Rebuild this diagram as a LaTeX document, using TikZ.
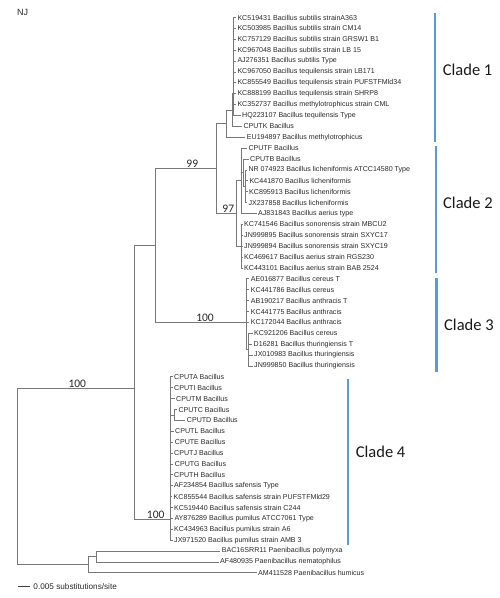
\documentclass[tikz,border=0pt]{standalone}
\usepackage{fontspec}
\setmainfont{Liberation Sans}
\newfontfamily\carl{Carlito}
\definecolor{treegray}{RGB}{120,120,120}
\definecolor{cladeblue}{RGB}{91,155,213}
\definecolor{labtext}{RGB}{40,40,40}
\newcommand\treefont{\fontsize{7.1}{8}\selectfont}
\newcommand\tleaf[4]{\node[leaf] (#1) at (#2,{17.5+10.89*#3}) {#4};}
\tikzset{
  leaf/.style={anchor=west, inner xsep=1.5pt, inner ysep=0pt, font=\treefont, text=labtext},
  br/.style={draw=treegray, line width=0.9pt},
  boot/.style={anchor=south, inner sep=0.6pt, font=\carl\fontsize{11.5}{12}\selectfont, text=labtext},
  cbar/.style={draw=cladeblue, line width=2.2pt},
  cladelab/.style={anchor=west, inner sep=0pt, font=\carl\fontsize{16.5}{18}\selectfont, text=black!90}
}
\begin{document}
\begin{tikzpicture}[x=1pt,y=-1pt]
\useasboundingbox (0,0) rectangle (500,598);
\node[anchor=west, inner sep=0pt, font=\fontsize{9}{10}\selectfont, text=labtext] (nj) at (17,12) {NJ};
% leaves
\tleaf{l0}{235.8}{0}{KC519431 Bacillus subtilis strainA363}
\tleaf{l1}{235.8}{1}{KC503985 Bacillus subtilis strain CM14}
\tleaf{l2}{235.8}{2}{KC757129 Bacillus subtilis strain GRSW1 B1}
\tleaf{l3}{235.8}{3}{KC967048 Bacillus subtilis strain LB 15}
\tleaf{l4}{235.8}{4}{AJ276351 Bacillus subtilis Type}
\tleaf{l5}{235.8}{5}{KC967050 Bacillus tequilensis strain LB171}
\tleaf{l6}{235.8}{6}{KC855549 Bacillus tequilensis strain PUFSTFMld34}
\tleaf{l7}{235.8}{7}{KC888199 Bacillus tequilensis strain SHRP8}
\tleaf{l8}{235.8}{8}{KC352737 Bacillus methylotrophicus strain CML}
\tleaf{l9}{240.5}{9}{HQ223107 Bacillus tequilensis Type}
\tleaf{l10}{241.8}{10}{CPUTK Bacillus}
\tleaf{l11}{245.2}{11}{EU194897 Bacillus methylotrophicus}
\tleaf{l12}{246.8}{12}{CPUTF Bacillus}
\tleaf{l13}{248.5}{13}{CPUTB Bacillus}
\tleaf{l14}{246.8}{14}{NR 074923 Bacillus licheniformis ATCC14580 Type}
\tleaf{l15}{247.8}{15}{KC441870 Bacillus licheniformis}
\tleaf{l16}{247.5}{16}{KC895913 Bacillus licheniformis}
\tleaf{l17}{246.8}{17}{JX237858 Bacillus licheniformis}
\tleaf{l18}{256.5}{18}{AJ831843 Bacillus aerius type}
\tleaf{l19}{242.5}{19}{KC741546 Bacillus sonorensis strain MBCU2}
\tleaf{l20}{242.5}{20}{JN999895 Bacillus sonorensis strain SXYC17}
\tleaf{l21}{242.5}{21}{JN999894 Bacillus sonorensis strain SXYC19}
\tleaf{l22}{242.5}{22}{KC469617 Bacillus aerius strain RGS230}
\tleaf{l23}{242.5}{23}{KC443101 Bacillus aerius strain BAB 2524}
\tleaf{l24}{249.2}{24}{AE016877 Bacillus cereus T}
\tleaf{l25}{249.2}{25}{KC441786 Bacillus cereus}
\tleaf{l26}{249.2}{26}{AB190217 Bacillus anthracis T}
\tleaf{l27}{249.2}{27}{KC441775 Bacillus anthracis}
\tleaf{l28}{249.2}{28}{KC172044 Bacillus anthracis}
\tleaf{l29}{252.5}{29}{KC921206 Bacillus cereus}
\tleaf{l30}{252.0}{30}{D16281 Bacillus thuringiensis T}
\tleaf{l31}{252.5}{31}{JX010983 Bacillus thuringiensis}
\tleaf{l32}{252.5}{32}{JN999850 Bacillus thuringiensis}
\tleaf{l33}{172.5}{33}{CPUTA Bacillus}
\tleaf{l34}{172.5}{34}{CPUTI Bacillus}
\tleaf{l35}{174.5}{35}{CPUTM Bacillus}
\tleaf{l36}{176.8}{36}{CPUTC Bacillus}
\tleaf{l37}{185.2}{37}{CPUTD Bacillus}
\tleaf{l38}{173.5}{38}{CPUTL Bacillus}
\tleaf{l39}{173.2}{39}{CPUTE Bacillus}
\tleaf{l40}{172.5}{40}{CPUTJ Bacillus}
\tleaf{l41}{173.2}{41}{CPUTG Bacillus}
\tleaf{l42}{172.5}{42}{CPUTH Bacillus}
\tleaf{l43}{172.5}{43}{AF234854 Bacillus safensis Type}
\tleaf{l44}{172.0}{44}{KC855544 Bacillus safensis strain PUFSTFMld29}
\tleaf{l45}{172.5}{45}{KC519440 Bacillus safensis strain C244}
\tleaf{l46}{172.8}{46}{AY876289 Bacillus pumilus ATCC7061 Type}
\tleaf{l47}{172.5}{47}{KC434963 Bacillus pumilus strain A6}
\tleaf{l48}{172.5}{48}{JX971520 Bacillus pumilus strain AMB 3}
\tleaf{l49}{220.2}{49}{BAC16SRR11 Paenibacillus polymyxa}
\tleaf{l50}{218.5}{50}{AF480935 Paenibacillus nematophilus}
\tleaf{l51}{256.5}{51}{AM411528 Paenibacillus humicus}
% internal nodes
\coordinate (A) at (233.8,93.73);
\coordinate (B) at (232.0,110.07);
\coordinate (C) at (226.7,123.68);
\coordinate (G) at (245.5,186.30);
\coordinate (H) at (243.5,172.69);
\coordinate (F) at (241.5,180.85);
\coordinate (K) at (241.7,246.19);
\coordinate (E) at (236.5,213.52);
\coordinate (D) at (216.7,168.60);
\coordinate (R) at (248.3,349.65);
\coordinate (Q) at (246.7,322.40);
\coordinate (P) at (155.7,245.50);
\coordinate (V) at (174.0,414.98);
\coordinate (S) at (170.5,519.50);
\coordinate (O) at (134.0,388.00);
\coordinate (U) at (96.7,556.55);
\coordinate (T) at (88.3,564.70);
\coordinate (root) at (17.3,476.00);
% branches
\foreach \c in {l0,l1,l2,l3,l4,l5,l6,l7,l8,l9} \draw[br] (A) |- (\c.west);
\draw[br] (B) |- (A);
\draw[br] (B) |- (l10.west);
\draw[br] (C) |- (B);
\draw[br] (C) |- (l11.west);
\foreach \c in {l14,l15,l16,l17} \draw[br] (G) |- (\c.west);
\draw[br] (H) |- (l13.west);
\draw[br] (H) |- (G);
\draw[br] (F) |- (l12.west);
\draw[br] (F) |- (H);
\draw[br] (F) |- (l18.west);
\foreach \c in {l19,l20,l21,l22,l23} \draw[br] (K) |- (\c.west);
\draw[br] (E) |- (F);
\draw[br] (E) |- (K);
\draw[br] (D) |- (C);
\draw[br] (D) |- (E);
\foreach \c in {l29,l30,l31,l32} \draw[br] (R) |- (\c.west);
\foreach \c in {l24,l25,l26,l27,l28} \draw[br] (Q) |- (\c.west);
\draw[br] (Q) |- (R);
\draw[br] (P) |- (D);
\draw[br] (P) |- (Q);
\draw[br] (V) |- (l36.west);
\draw[br] (V) |- (l37.west);
\foreach \c in {l33,l34,l35,l38,l39,l40,l41,l42,l43,l44,l45,l46,l47,l48} \draw[br] (S) |- (\c.west);
\draw[br] (S) |- (V);
\draw[br] (O) |- (P);
\draw[br] (O) |- (S);
\draw[br] (U) |- (l49.west);
\draw[br] (U) |- (l50.west);
\draw[br] (T) |- (U);
\draw[br] (T) |- (l51.west);
\draw[br] (root) |- (O);
\draw[br] (root) |- (T);
% bootstrap values
\node[boot] (b99) at (192.3,168.6) {99};
\node[boot] (b97) at (228.3,213.5) {97};
\node[boot] (b100a) at (205.0,322.4) {100};
\node[boot] (b100b) at (77.3,388.0) {100};
\node[boot] (b100c) at (155.7,519.5) {100};
% clade bars
\coordinate (c1t) at (435.0,12.7);  \coordinate (c1b) at (435.0,141.7);
\coordinate (c2t) at (436.0,145.7); \coordinate (c2b) at (436.0,273.0);
\coordinate (c3t) at (436.5,278.0); \coordinate (c3b) at (436.5,371.7);
\coordinate (c4t) at (347.7,379.0); \coordinate (c4b) at (347.7,545.0);
\draw[cbar] (c1t) -- (c1b);
\draw[cbar] (c2t) -- (c2b);
\draw[cbar] (c3t) -- (c3b);
\draw[cbar] (c4t) -- (c4b);
\node[cladelab] (cl1) at (442.7,70.0) {Clade 1};
\node[cladelab] (cl2) at (443.0,203.0) {Clade 2};
\node[cladelab] (cl3) at (444.0,325.0) {Clade 3};
\node[cladelab] (cl4) at (355.7,451.7) {Clade 4};
% scale bar
\coordinate (sb1) at (18,586.7);
\coordinate (sb2) at (30,586.7);
\draw[draw=black!75, line width=0.9pt] (sb1) -- (sb2);
\node[anchor=west, inner sep=0pt, font=\fontsize{8.2}{9}\selectfont, text=labtext] (sbt) at (33.3,586.7) {0.005 substitutions/site};
\end{tikzpicture}
\end{document}
